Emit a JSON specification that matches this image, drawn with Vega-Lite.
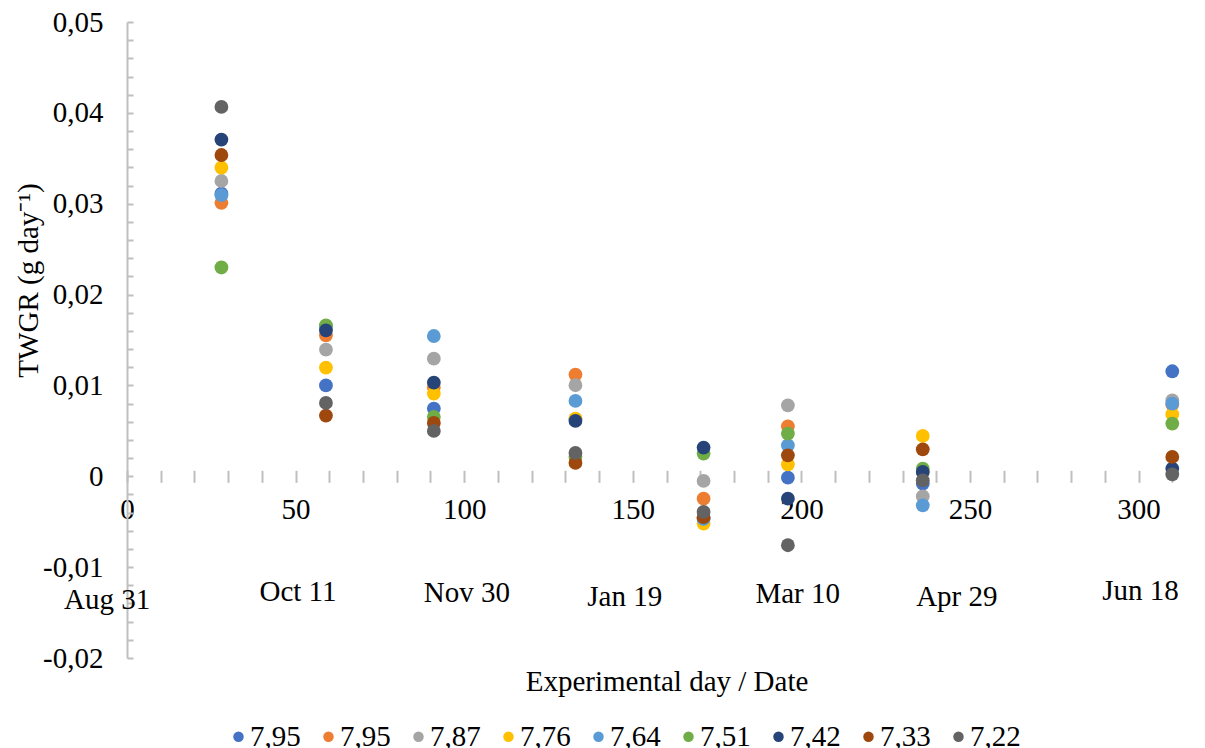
{
  "$schema": "https://vega.github.io/schema/vega-lite/v6.json",
  "width": 1079,
  "height": 636,
  "autosize": {"type": "none"},
  "padding": {"left": 127, "top": 22, "right": 0, "bottom": 90},
  "background": "white",
  "config": {
    "view": {"stroke": null},
    "font": "Liberation Serif",
    "axis": {"labelFont": "Liberation Serif", "titleFont": "Liberation Serif"},
    "legend": {"labelFont": "Liberation Serif"},
    "text": {"font": "Liberation Serif"}
  },
  "layer": [
    {
      "mark": {"type": "rule", "color": "#BFBFBF", "strokeWidth": 2},
      "encoding": {
        "x": {"datum": 0, "type": "quantitative", "axis": null},
        "x2": {"datum": 320},
        "y": {"datum": 0, "type": "quantitative", "axis": null}
      }
    },
    {
      "data": {"values": [
        {"label": "Aug 31", "xd": -5.9, "yd": -0.01365},
        {"label": "Oct 11", "xd": 50.7, "yd": -0.01277},
        {"label": "Nov 30", "xd": 100.8, "yd": -0.01288},
        {"label": "Jan 19", "xd": 147.6, "yd": -0.01332},
        {"label": "Mar 10", "xd": 198.9, "yd": -0.01299},
        {"label": "Apr 29", "xd": 246.1, "yd": -0.01332},
        {"label": "Jun 18", "xd": 300.6, "yd": -0.01266}
      ]},
      "mark": {"type": "text", "font": "Liberation Serif", "fontSize": 29, "color": "black", "align": "center", "baseline": "middle"},
      "encoding": {
        "text": {"field": "label"},
        "x": {"field": "xd", "type": "quantitative", "scale": {"domain": [0, 320], "nice": false, "zero": false},
          "axis": {"orient": "bottom", "offset": -187.71, "values": [0,10,20,30,40,50,60,70,80,90,100,110,120,130,140,150,160,170,180,190,200,210,220,230,240,250,260,270,280,290,300,310,320],
            "labelExpr": "datum.value % 50 == 0 && datum.value <= 300 ? datum.label : ''",
            "tickSize": 12, "tickColor": "#BFBFBF", "tickWidth": 2, "domain": false, "grid": false,
            "labelPadding": 13, "labelFont": "Liberation Serif", "labelFontSize": 29, "labelColor": "black",
            "labelOverlap": false, "labelFlush": false, "title": null}},
        "y": {"field": "yd", "type": "quantitative", "scale": {"domain": [-0.02, 0.05], "nice": false, "zero": false},
          "axis": {"orient": "right", "offset": -1079,
            "values": [-0.02,-0.018,-0.016,-0.014,-0.012,-0.01,-0.008,-0.006,-0.004,-0.002,0,0.002,0.004,0.006,0.008,0.01,0.012,0.014,0.016,0.018,0.02,0.022,0.024,0.026,0.028,0.03,0.032,0.034,0.036,0.038,0.04,0.042,0.044,0.046,0.048,0.05],
            "labels": false, "tickSize": 6, "tickColor": "#BFBFBF", "tickWidth": 2,
            "domain": true, "domainColor": "#BFBFBF", "domainWidth": 2, "grid": false, "title": null}}
      }
    },
    {
      "data": {"values": [
        {"series": "7,95 a", "day": 28, "v": 0.0311},
        {"series": "7,95 a", "day": 59, "v": 0.0100},
        {"series": "7,95 a", "day": 91, "v": 0.00745},
        {"series": "7,95 a", "day": 133, "v": 0.0063},
        {"series": "7,95 a", "day": 171, "v": -0.0046},
        {"series": "7,95 a", "day": 196, "v": -0.00015},
        {"series": "7,95 a", "day": 236, "v": -0.0008},
        {"series": "7,95 a", "day": 310, "v": 0.01156},
        {"series": "7,95 b", "day": 28, "v": 0.0301},
        {"series": "7,95 b", "day": 59, "v": 0.01552},
        {"series": "7,95 b", "day": 91, "v": 0.0098},
        {"series": "7,95 b", "day": 133, "v": 0.01119},
        {"series": "7,95 b", "day": 171, "v": -0.00246},
        {"series": "7,95 b", "day": 196, "v": 0.0055},
        {"series": "7,95 b", "day": 236, "v": 0.0005},
        {"series": "7,95 b", "day": 310, "v": 0.0079},
        {"series": "7,87", "day": 28, "v": 0.0325},
        {"series": "7,87", "day": 59, "v": 0.01394},
        {"series": "7,87", "day": 91, "v": 0.01295},
        {"series": "7,87", "day": 133, "v": 0.01002},
        {"series": "7,87", "day": 171, "v": -0.00051},
        {"series": "7,87", "day": 196, "v": 0.00781},
        {"series": "7,87", "day": 236, "v": -0.0022},
        {"series": "7,87", "day": 310, "v": 0.00836},
        {"series": "7,76", "day": 28, "v": 0.03397},
        {"series": "7,76", "day": 59, "v": 0.01196},
        {"series": "7,76", "day": 91, "v": 0.0091},
        {"series": "7,76", "day": 133, "v": 0.00635},
        {"series": "7,76", "day": 171, "v": -0.00521},
        {"series": "7,76", "day": 196, "v": 0.00132},
        {"series": "7,76", "day": 236, "v": 0.00444},
        {"series": "7,76", "day": 310, "v": 0.00682},
        {"series": "7,64", "day": 28, "v": 0.03094},
        {"series": "7,64", "day": 59, "v": 0.0165},
        {"series": "7,64", "day": 91, "v": 0.01544},
        {"series": "7,64", "day": 133, "v": 0.00829},
        {"series": "7,64", "day": 171, "v": -0.0047},
        {"series": "7,64", "day": 196, "v": 0.00341},
        {"series": "7,64", "day": 236, "v": -0.00319},
        {"series": "7,64", "day": 310, "v": 0.0080},
        {"series": "7,51", "day": 28, "v": 0.02298},
        {"series": "7,51", "day": 59, "v": 0.01662},
        {"series": "7,51", "day": 91, "v": 0.00653},
        {"series": "7,51", "day": 133, "v": 0.00213},
        {"series": "7,51", "day": 171, "v": 0.0025},
        {"series": "7,51", "day": 196, "v": 0.0047},
        {"series": "7,51", "day": 236, "v": 0.00084},
        {"series": "7,51", "day": 310, "v": 0.0058},
        {"series": "7,42", "day": 28, "v": 0.03706},
        {"series": "7,42", "day": 59, "v": 0.01607},
        {"series": "7,42", "day": 91, "v": 0.01031},
        {"series": "7,42", "day": 133, "v": 0.00609},
        {"series": "7,42", "day": 171, "v": 0.00316},
        {"series": "7,42", "day": 196, "v": -0.00246},
        {"series": "7,42", "day": 236, "v": 0.00048},
        {"series": "7,42", "day": 310, "v": 0.00085},
        {"series": "7,33", "day": 28, "v": 0.03536},
        {"series": "7,33", "day": 59, "v": 0.00668},
        {"series": "7,33", "day": 91, "v": 0.00587},
        {"series": "7,33", "day": 133, "v": 0.00147},
        {"series": "7,33", "day": 171, "v": -0.0045},
        {"series": "7,33", "day": 196, "v": 0.00231},
        {"series": "7,33", "day": 236, "v": 0.00297},
        {"series": "7,33", "day": 310, "v": 0.00213},
        {"series": "7,22", "day": 28, "v": 0.04065},
        {"series": "7,22", "day": 59, "v": 0.00807},
        {"series": "7,22", "day": 91, "v": 0.00499},
        {"series": "7,22", "day": 133, "v": 0.00257},
        {"series": "7,22", "day": 171, "v": -0.00393},
        {"series": "7,22", "day": 196, "v": -0.00759},
        {"series": "7,22", "day": 236, "v": -0.00044},
        {"series": "7,22", "day": 310, "v": 0.00022}
      ]},
      "mark": {"type": "point", "filled": true, "size": 190, "opacity": 1, "shape": "circle"},
      "encoding": {
        "x": {"field": "day", "type": "quantitative", "scale": {"domain": [0, 320], "nice": false, "zero": false},
          "axis": {"orient": "bottom", "title": "Experimental day / Date", "labels": false, "ticks": false, "tickSize": 0,
            "domain": false, "grid": false, "titleFont": "Liberation Serif", "titleFontSize": 29, "titleFontWeight": "normal",
            "titleColor": "black", "titlePadding": 9}},
        "y": {"field": "v", "type": "quantitative", "scale": {"domain": [-0.02, 0.05], "nice": false, "zero": false},
          "axis": {"orient": "left", "values": [-0.02, -0.01, 0, 0.01, 0.02, 0.03, 0.04, 0.05],
            "labelExpr": "datum.value == 0 ? '0' : (datum.value < 0 ? '-' : '') + replace(format(abs(datum.value), '.2f'), '.', ',')",
            "ticks": false, "tickSize": 0, "domain": false, "grid": false, "labelPadding": 24,
            "labelFont": "Liberation Serif", "labelFontSize": 29, "labelColor": "black",
            "title": "TWGR (g day⁻¹)", "titleFont": "Liberation Serif", "titleFontSize": 29, "titleFontWeight": "normal",
            "titleColor": "black", "titleX": -99, "titleY": 258, "titleAngle": -90, "titleAlign": "center", "titleBaseline": "middle"}},
        "color": {"field": "series", "type": "nominal",
          "scale": {"domain": ["7,95 a", "7,95 b", "7,87", "7,76", "7,64", "7,51", "7,42", "7,33", "7,22"],
            "range": ["#4472C4", "#ED7D31", "#A5A5A5", "#FFC000", "#5B9BD5", "#70AD47", "#264478", "#9E480E", "#636363"]},
          "legend": {"title": null, "orient": "none", "legendX": 97, "legendY": 700, "direction": "horizontal", "columns": 9,
            "symbolType": "circle", "symbolSize": 110, "symbolStrokeWidth": 0, "symbolOpacity": 1,
            "labelFont": "Liberation Serif", "labelFontSize": 29, "labelColor": "black", "labelOffset": -3,
            "columnPadding": 13, "labelExpr": "substring(datum.label, 0, 4)"}}
      }
    }
  ],
  "resolve": {"axis": {"x": "independent", "y": "independent"}}
}
